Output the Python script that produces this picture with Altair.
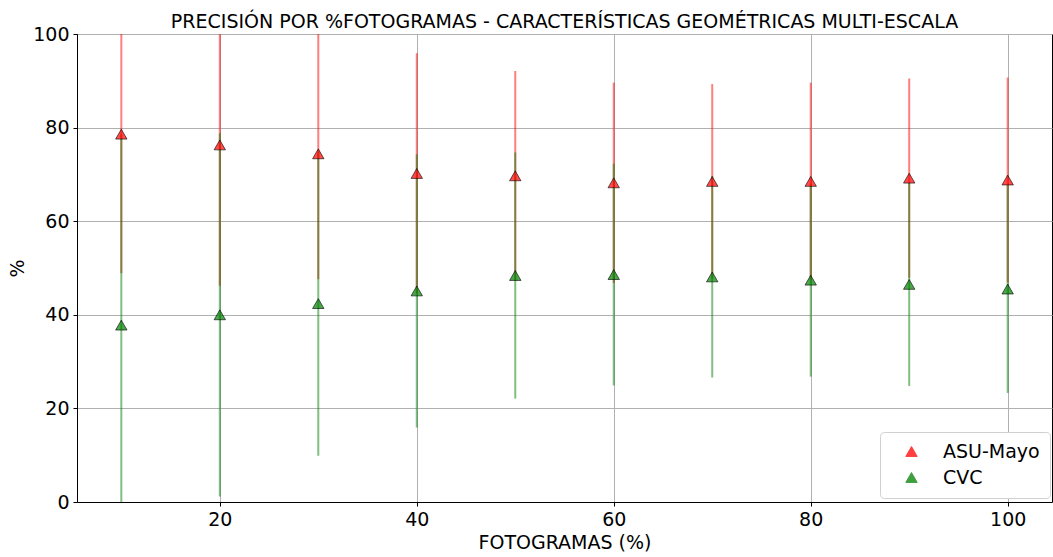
import altair as alt
import pandas as pd

x_vals = [10, 20, 30, 40, 50, 60, 70, 80, 90, 100]
asu_mean = [78.6, 76.3, 74.4, 70.2, 69.7, 68.2, 68.5, 68.5, 69.2, 68.8]
asu_std = [29.7, 30.1, 26.8, 25.7, 22.4, 21.4, 20.8, 21.1, 21.3, 21.9]
cvc_mean = [37.8, 40.0, 42.4, 45.1, 48.4, 48.6, 48.1, 47.4, 46.5, 45.5]
cvc_std = [40.8, 38.8, 32.5, 29.2, 26.3, 23.7, 21.5, 20.6, 21.7, 22.2]
series = ["ASU-Mayo", "CVC"]
colors = ["#ff0000", "#008000"]

rows = []
for name, means, stds in [(series[0], asu_mean, asu_std), (series[1], cvc_mean, cvc_std)]:
    for x, m, s in zip(x_vals, means, stds):
        rows.append({"serie": name, "x": x, "mean": m, "lo": m - s, "hi": m + s})
df = pd.DataFrame(rows)

xscale = alt.Scale(domain=[5.5, 104.5], nice=False, zero=False)
yscale = alt.Scale(domain=[0, 100], nice=False)
cscale = alt.Scale(domain=series, range=colors)

xaxis = alt.Axis(title="FOTOGRAMAS (%)", values=[20, 40, 60, 80, 100], grid=True)
yaxis = alt.Axis(title="%", values=[0, 20, 40, 60, 80, 100], grid=True)

legend = alt.Legend(
    title=None, orient="none", legendX=803, legendY=398,
    symbolType="triangle-up", symbolSize=130, symbolStrokeColor="black",
    symbolStrokeWidth=1, symbolOpacity=0.75,
    labelFontSize=19, labelFont="DejaVu Sans", labelColor="#000000",
    padding=10, strokeColor="#d0d0d0", fillColor="white", cornerRadius=4,
    rowPadding=6, labelOffset=22, symbolOffset=12,
)

base = alt.Chart(df)

def rules(name):
    return base.transform_filter(alt.datum.serie == name).mark_rule(
        strokeWidth=2, opacity=0.5, clip=True
    ).encode(
        x=alt.X("x:Q", scale=xscale, axis=xaxis),
        y=alt.Y("lo:Q", scale=yscale, axis=yaxis),
        y2="hi:Q",
        color=alt.Color("serie:N", scale=cscale, legend=legend),
    )

points = base.mark_point(
    shape="triangle-up", filled=True, size=130, fillOpacity=0.7,
    stroke="black", strokeWidth=1, strokeOpacity=0.6, opacity=1
).encode(
    x=alt.X("x:Q", scale=xscale, axis=xaxis),
    y=alt.Y("mean:Q", scale=yscale, axis=yaxis),
    color=alt.Color("serie:N", scale=cscale, legend=legend),
)

chart = alt.layer(rules("ASU-Mayo"), rules("CVC"), points).properties(
    width=975, height=468,
    title=alt.TitleParams(
        "PRECISIÓN POR %FOTOGRAMAS - CARACTERÍSTICAS GEOMÉTRICAS MULTI-ESCALA",
        fontSize=19, font="DejaVu Sans", fontWeight="normal", color="#000000",
        anchor="middle", offset=0, dy=7,
    ),
    autosize=alt.AutoSizeParams(type="none"),
    padding={"left": 77, "top": 34, "right": 1, "bottom": 55},
).configure_view(
    stroke="#000000", strokeWidth=1
).configure_axis(
    labelFont="DejaVu Sans", titleFont="DejaVu Sans", labelFontSize=19, titleFontSize=19,
    labelColor="#000000", titleColor="#000000", titleFontWeight="normal",
    gridColor="#b0b0b0", gridWidth=1, domainColor="#000000", tickColor="#000000",
    tickSize=4, labelPadding=4,
).configure_axisX(titlePadding=4).configure_axisY(titlePadding=5)

chart.save("out.html", embed_options={"renderer": "svg", "actions": False})
